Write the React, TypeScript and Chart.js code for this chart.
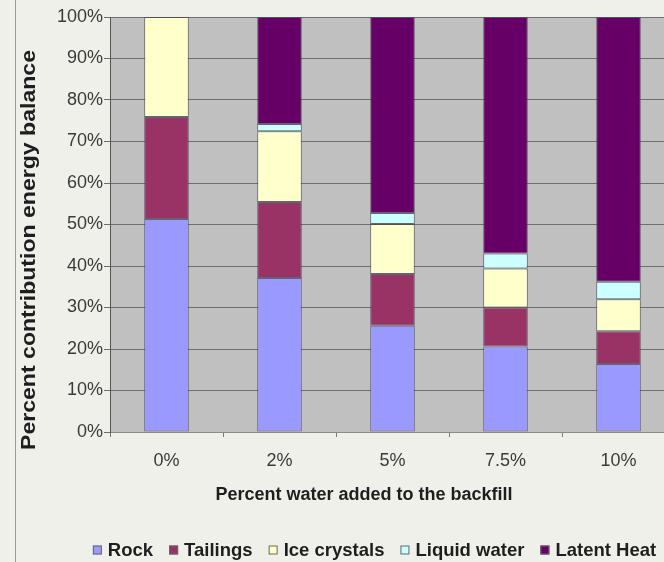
import React, { useEffect, useRef } from "react";
import { Chart, registerables } from "chart.js";

Chart.register(...registerables);

const categories = ["0%", "2%", "5%", "7.5%", "10%"];
const seriesNames = ["Rock", "Tailings", "Ice crystals", "Liquid water", "Latent Heat"];
const rock = [51.3, 37.1, 25.6, 20.6, 16.4];
const tailings = [24.6, 18.3, 12.5, 9.4, 7.9];
const iceCrystals = [24.1, 17.1, 12.0, 9.4, 7.7];
const liquidWater = [null, 1.7, 2.7, 3.6, 4.2];
const latentHeat = [null, 25.8, 47.2, 57.0, 63.8];
const yTickLabels = ["0%", "10%", "20%", "30%", "40%", "50%", "60%", "70%", "80%", "90%", "100%"];
const yTitle = "Percent contribution energy balance";
const xTitle = "Percent water added to the backfill";

const seriesColors = ["#9999ff", "#993366", "#ffffcc", "#ccffff", "#660066"];
const BG = "#f0f0ea";
const PLOT = "#c0c0c0";
const FONT = "'Liberation Sans', Arial, sans-serif";

const decor = {
  id: "decor",
  beforeDraw(chart: any) {
    const { ctx, chartArea: a } = chart;
    ctx.save();
    ctx.fillStyle = BG;
    ctx.fillRect(0, 0, chart.width, chart.height);
    ctx.fillStyle = PLOT;
    ctx.fillRect(a.left, a.top, a.right - a.left, a.bottom - a.top);
    ctx.strokeStyle = "#9a9a9a";
    ctx.lineWidth = 1;
    ctx.beginPath();
    ctx.moveTo(15.5, 0);
    ctx.lineTo(15.5, chart.height);
    ctx.stroke();
    ctx.restore();
  },
  afterDraw(chart: any) {
    const { ctx } = chart;
    ctx.save();
    ctx.fillStyle = "#1e1e1e";
    // y title
    ctx.font = `bold 19.5px ${FONT}`;
    const w = ctx.measureText(yTitle).width;
    const sx = 400 / w;
    ctx.translate(30, 250);
    ctx.rotate(-Math.PI / 2);
    ctx.scale(sx, 1);
    ctx.textAlign = "center";
    ctx.textBaseline = "middle";
    ctx.fillText(yTitle, 0, 0);
    ctx.setTransform(1, 0, 0, 1, 0, 0);
    // x title
    ctx.font = `bold 18px ${FONT}`;
    ctx.textAlign = "center";
    ctx.textBaseline = "middle";
    ctx.fillText(xTitle, 364, 495);
    // legend
    ctx.font = `bold 18.5px ${FONT}`;
    const box = 9, boxGap = 6, itemGap = 16;
    const widths = seriesNames.map((n) => ctx.measureText(n).width);
    const total = widths.reduce((s, v) => s + v + box + boxGap, 0) + itemGap * (seriesNames.length - 1);
    let x = 374.5 - total / 2;
    const y = 550;
    ctx.textAlign = "left";
    seriesNames.forEach((n, i) => {
      ctx.fillStyle = seriesColors[i];
      ctx.fillRect(x, y - box / 2, box, box);
      ctx.strokeStyle = "#666";
      ctx.lineWidth = 1;
      ctx.strokeRect(x + 0.5, y - box / 2 + 0.5, box - 1, box - 1);
      ctx.fillStyle = "#1e1e1e";
      ctx.fillText(n, x + box + boxGap, y + 1);
      x += box + boxGap + widths[i] + itemGap;
    });
    ctx.restore();
  },
};

export default function App() {
  const ref = useRef<HTMLCanvasElement | null>(null);
  useEffect(() => {
    if (!ref.current) return;
    const series = [rock, tailings, iceCrystals, liquidWater, latentHeat];
    const chart = new Chart(ref.current, {
      type: "bar",
      data: {
        labels: categories,
        datasets: series.map((d, i) => ({
          label: seriesNames[i],
          data: d as any,
          backgroundColor: seriesColors[i],
          borderColor: "rgba(70,70,90,0.75)",
          borderWidth: 1,
          borderSkipped: false,
          categoryPercentage: 1,
          barPercentage: 0.395,
        })),
      },
      options: {
        responsive: false,
        animation: false,
        devicePixelRatio: 1,
        layout: { padding: { left: 0, top: 17, right: 0, bottom: 0 } },
        plugins: { legend: { display: false }, tooltip: { enabled: false } },
        scales: {
          x: {
            stacked: true,
            afterFit: (s: any) => {
              s.height = 130;
            },
            grid: { offset: true, drawOnChartArea: false, tickLength: 5, color: "#7a7a7a" },
            border: { display: true, color: "#8a8a8a" },
            ticks: { color: "#3a3a3a", font: { family: FONT, size: 18 }, padding: 13 },
          },
          y: {
            stacked: true,
            min: 0,
            max: 100,
            afterFit: (s: any) => {
              s.width = 110;
            },
            grid: { color: "#6e6e6e", tickLength: 6, lineWidth: 1 },
            border: { display: true, color: "#555" },
            ticks: {
              stepSize: 10,
              color: "#3a3a3a",
              font: { family: FONT, size: 18 },
              padding: 1,
              callback: (v: any) => yTickLabels[Math.round(Number(v) / 10)],
            },
          },
        },
      },
      plugins: [decor],
    });
    return () => chart.destroy();
  }, []);
  return (
    <div style={{ position: "fixed", left: 0, top: 0, width: 664, height: 562, overflow: "hidden" }}>
      <canvas ref={ref} width={675} height={562} style={{ display: "block" }} />
    </div>
  );
}
